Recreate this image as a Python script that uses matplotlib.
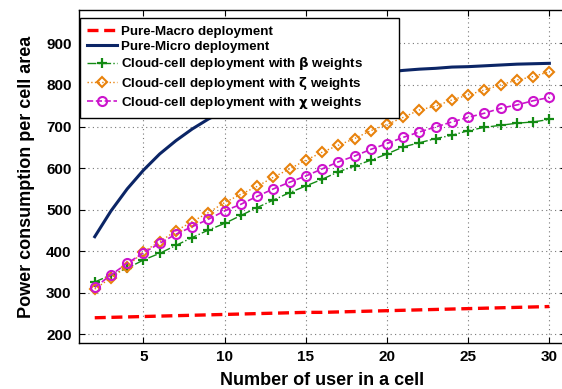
import matplotlib
matplotlib.use("Agg")
import matplotlib.pyplot as plt
import numpy as np

plt.rcParams['font.family'] = ['Liberation Sans', 'DejaVu Sans']
plt.rcParams['font.weight'] = 'bold'
plt.rcParams['mathtext.fontset'] = 'dejavusans'

users = list(range(2, 31))
macro = [240, 241, 242, 243, 244, 245, 246, 247, 248, 249, 250, 251, 252, 253,
         253, 254, 255, 256, 257, 258, 259, 260, 261, 262, 263, 264, 265, 266, 267]
micro = [435, 497, 550, 595, 634, 666, 694, 718, 738, 755, 770, 783, 793, 803,
         810, 817, 823, 827, 831, 835, 838, 840, 843, 844, 846, 848, 850, 851, 852]
beta = [326, 343, 359, 379, 395, 414, 433, 451, 467, 486, 505, 523, 541, 557,
        573, 591, 605, 619, 634, 651, 661, 671, 679, 690, 698, 703, 708, 711, 717]
zeta = [309, 336, 363, 399, 423, 449, 471, 493, 517, 537, 556, 578, 598, 619,
        638, 655, 671, 690, 705, 722, 740, 749, 764, 776, 788, 800, 812, 820, 832]
chi = [313, 343, 371, 396, 419, 441, 459, 477, 497, 513, 532, 550, 566, 581,
       598, 615, 629, 645, 659, 674, 687, 699, 711, 722, 732, 744, 752, 762, 770]

labels = ['Pure-Macro deployment', 'Pure-Micro deployment',
          r'Cloud-cell deployment with $\mathrm{\beta}$ weights',
          r'Cloud-cell deployment with $\mathrm{\zeta}$ weights',
          r'Cloud-cell deployment with $\mathrm{\chi}$ weights']
xticks = [5, 10, 15, 20, 25, 30]
yticks = [200, 300, 400, 500, 600, 700, 800, 900]

fig = plt.figure(figsize=(5.62, 3.89), dpi=100)
ax = fig.add_axes([0.1397, 0.119, 0.8667, 0.855])

ax.plot(users, macro, color='#ff0000', lw=2.4, ls=(0, (3.3, 1.7)), label=labels[0])
ax.plot(users, micro, color='#0b2566', lw=2.2, ls='-', label=labels[1])
ax.plot(users, beta, color='#138a13', lw=1.0, ls='-.', marker='+', ms=7, mew=1.6,
        label=labels[2])
ax.plot(users, zeta, color='#e8820c', lw=1.0, ls=':', marker='D', ms=5.5, mew=1.5,
        mfc='none', label=labels[3])
ax.plot(users, chi, color='#cc14cc', lw=1.2, ls='--', marker='o', ms=6.5, mew=1.5,
        mfc='none', label=labels[4])

ax.set_xlim(1, 31)
ax.set_ylim(180, 980)
ax.set_xticks(xticks)
ax.set_yticks(yticks)
ax.tick_params(direction='in', top=True, right=True, labelsize=11, length=4, width=0.8,
               pad=5)
for lab in ax.get_xticklabels() + ax.get_yticklabels():
    lab.set_fontweight('bold')
ax.grid(True, ls=(0, (1, 3)), color='#777777', lw=0.8)
for s in ax.spines.values():
    s.set_linewidth(1.0)

ax.set_xlabel('Number of user in a cell', fontsize=13, fontweight='bold', labelpad=6)
ax.set_ylabel('Power consumption per cell area', fontsize=13, fontweight='bold', labelpad=8)

leg = ax.legend(loc='upper left', bbox_to_anchor=(0.003, 0.5, 0.655, 0.476),
                mode='expand', frameon=True,
                fancybox=False, edgecolor='black', framealpha=1, borderpad=0.55,
                labelspacing=0.2, handlelength=2.25, handletextpad=0.3,
                borderaxespad=0.0, prop={'weight': 'bold', 'size': 9.6})
leg.get_frame().set_linewidth(1.0)

fig.savefig('out.png', dpi=100)
